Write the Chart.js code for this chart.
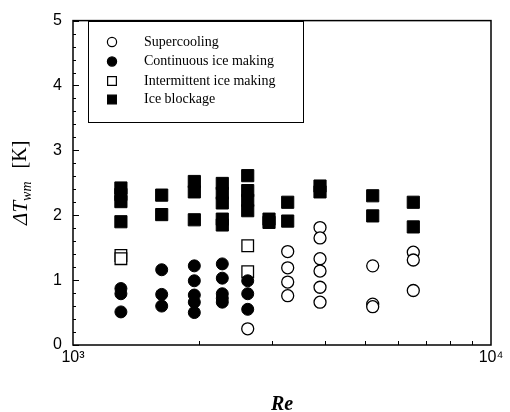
<!DOCTYPE html>
<html>
<head>
<meta charset="utf-8">
<script src="https://cdn.jsdelivr.net/npm/chart.js@4"></script>
<style>
  html, body { margin: 0; padding: 0; background: #fff; }
  canvas { display: block; }
</style>
</head>
<body>
<canvas id="chart" width="510" height="412"></canvas>
<script>
// data
const seriesNames = ["Supercooling", "Continuous ice making", "Intermittent ice making", "Ice blockage"];

const reSuper = [2618, 3263, 3263, 3263, 3263, 3899, 3899, 3899, 3899, 3899, 3899, 5212, 5212, 5212, 6518, 6518, 6518];
const dtSuper = [0.25, 1.44, 1.19, 0.97, 0.76, 1.81, 1.65, 1.33, 1.14, 0.89, 0.66, 1.22, 0.63, 0.59, 1.43, 1.31, 0.84];

const reCont = [1302, 1302, 1302, 1630, 1630, 1630, 1951, 1951, 1951, 1951, 1951, 2276, 2276, 2276, 2276, 2276, 2618, 2618, 2618];
const dtCont = [0.87, 0.79, 0.51, 1.16, 0.78, 0.60, 1.22, 0.99, 0.77, 0.66, 0.50, 1.25, 1.03, 0.79, 0.72, 0.66, 0.99, 0.79, 0.55];

const reInter = [1302, 1302, 2618, 2618];
const dtInter = [1.38, 1.33, 1.53, 1.13];

const reBlock = [1302, 1302, 1302, 1302, 1630, 1630, 1951, 1951, 1951, 2276, 2276, 2276, 2276, 2276,
                 2618, 2618, 2618, 2618, 2944, 2944, 3263, 3263, 3899, 3899, 5212, 5212, 6518, 6518];
const dtBlock = [2.42, 2.32, 2.21, 1.90, 2.31, 2.01, 2.52, 2.36, 1.93, 2.49, 2.34, 2.19, 1.94, 1.85,
                 2.61, 2.38, 2.23, 2.07, 1.94, 1.89, 2.20, 1.91, 2.45, 2.36, 2.30, 1.99, 2.20, 1.82];

const xTickLabels = { 1000: "10\u00b3", 10000: "10\u2074" };
const yTickValues = [0, 1, 2, 3, 4, 5];
const xTitle = "Re";

const serif = "'Liberation Serif', 'Times New Roman', serif";
const sans = "'Liberation Sans', Arial, sans-serif";

function pts(xs, ys) {
    return xs.map((x, i) => ({ x: x, y: ys[i] }));
}

// inward ticks, frame, y title and boxed legend
const decor = {
    id: "decor",
    afterDraw(chart) {
        const ctx = chart.ctx;
        const a = chart.chartArea;
        const xs = chart.scales.x;
        const ys = chart.scales.y;
        ctx.save();
        ctx.strokeStyle = "#000";
        ctx.lineWidth = 1.5;
        ctx.strokeRect(a.left, a.top, a.right - a.left, a.bottom - a.top);

        ctx.lineWidth = 1;
        ctx.beginPath();
        for (let v = 0; v <= 50; v += 2) {
            const py = ys.getPixelForValue(v / 10);
            const len = v % 10 === 0 ? 6 : 3;
            ctx.moveTo(a.left, Math.round(py) + 0.5);
            ctx.lineTo(a.left + len, Math.round(py) + 0.5);
        }
        for (let v = 2000; v < 10000; v += 1000) {
            const px = xs.getPixelForValue(v);
            ctx.moveTo(Math.round(px) + 0.5, a.bottom);
            ctx.lineTo(Math.round(px) + 0.5, a.bottom - 4);
        }
        ctx.stroke();

        // y title with subscript
        ctx.save();
        ctx.translate(21, (a.top + a.bottom) / 2);
        ctx.rotate(-Math.PI / 2);
        ctx.fillStyle = "#000";
        ctx.textBaseline = "middle";
        const p1 = "\u0394T", p2 = "wm", p3 = "[K]";
        ctx.font = "italic 21px " + serif;
        const w1 = ctx.measureText(p1).width;
        ctx.font = "italic 14px " + serif;
        const w2 = ctx.measureText(p2).width;
        ctx.font = "20px " + serif;
        const w3 = ctx.measureText(p3).width;
        const gap = 13;
        let x0 = -(w1 + w2 + gap + w3) / 2;
        ctx.font = "italic 21px " + serif;
        ctx.fillText(p1, x0, 0);
        ctx.font = "italic 14px " + serif;
        ctx.fillText(p2, x0 + w1, 6);
        ctx.font = "20px " + serif;
        ctx.fillText(p3, x0 + w1 + w2 + gap, 0);
        ctx.restore();

        // legend
        const bx = 88, by = 21.5, bw = 215, bh = 101;
        ctx.lineWidth = 1;
        ctx.strokeRect(bx + 0.5, by, bw, bh);
        const rows = [42, 61.5, 81, 99.5];
        ctx.font = "14px " + serif;
        ctx.textBaseline = "middle";
        ctx.fillStyle = "#000";
        chart.data.datasets.forEach((ds, i) => {
            ctx.save();
            ctx.fillStyle = ds.backgroundColor;
            ctx.strokeStyle = ds.borderColor;
            ctx.lineWidth = 1.2;
            const r = ds.pointStyle === "rect" ? 6.2 : 4.6;
            Chart.helpers.drawPoint(ctx, { pointStyle: ds.pointStyle, radius: r, borderWidth: 1.2 }, 112, rows[i]);
            ctx.restore();
            ctx.fillText(ds.label, 144, rows[i]);
        });
        ctx.restore();
    }
};

const open = { backgroundColor: "#fff", borderColor: "#000", borderWidth: 1.3 };
const solid = { backgroundColor: "#000", borderColor: "#000", borderWidth: 1 };

new Chart(document.getElementById("chart"), {
    type: "scatter",
    data: {
        datasets: [
            Object.assign({ label: seriesNames[0], data: pts(reSuper, dtSuper), pointStyle: "circle", pointRadius: 6 }, open),
            Object.assign({ label: seriesNames[1], data: pts(reCont, dtCont), pointStyle: "circle", pointRadius: 6 }, solid),
            Object.assign({ label: seriesNames[2], data: pts(reInter, dtInter), pointStyle: "rect", pointRadius: 8.2 }, open),
            Object.assign({ label: seriesNames[3], data: pts(reBlock, dtBlock), pointStyle: "rect", pointRadius: 8.6 }, solid)
        ]
    },
    options: {
        responsive: false,
        animation: false,
        layout: { padding: { top: 13, right: 19, left: 0, bottom: 0 } },
        plugins: {
            legend: { display: false },
            tooltip: { enabled: false }
        },
        scales: {
            x: {
                type: "logarithmic",
                min: 1000,
                max: 10000,
                grid: { display: false, drawTicks: false, tickLength: 0 },
                border: { display: false },
                ticks: {
                    autoSkip: false,
                    maxRotation: 0,
                    padding: 3,
                    color: "#000",
                    font: { family: sans, size: 16 },
                    callback: (v) => xTickLabels[v] || ""
                },
                title: {
                    display: true,
                    text: xTitle,
                    color: "#000",
                    font: { family: serif, size: 20, style: "italic", weight: "bold", lineHeight: 0.7 },
                    padding: { top: 0, bottom: 0 }
                },
                afterFit(s) { s.height = 67; }
            },
            y: {
                min: 0,
                max: 5,
                grid: { display: false, drawTicks: false, tickLength: 0 },
                border: { display: false },
                afterBuildTicks(s) { s.ticks = yTickValues.map(v => ({ value: v })); },
                ticks: {
                    padding: 11,
                    color: "#000",
                    font: { family: sans, size: 16 }
                },
                afterFit(s) { s.width = 73; }
            }
        }
    },
    plugins: [decor]
});
</script>
</body>
</html>
